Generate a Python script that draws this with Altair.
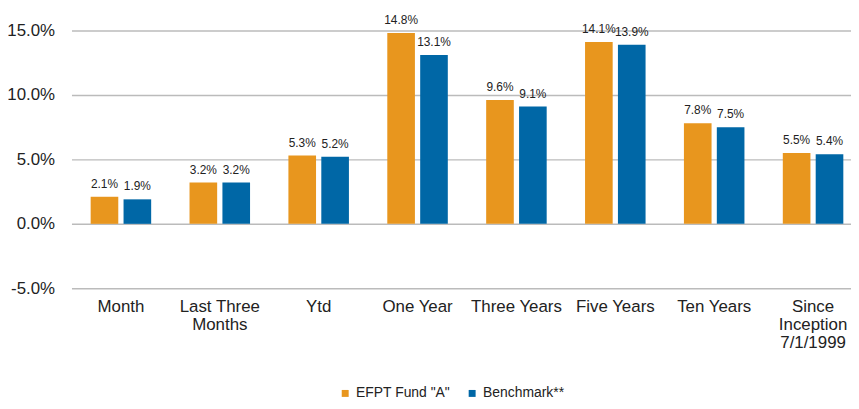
import altair as alt
import pandas as pd

categories = ["Month", "Last Three|Months", "Ytd", "One Year", "Three Years",
              "Five Years", "Ten Years", "Since|Inception|7/1/1999"]
fund = [2.1, 3.2, 5.3, 14.8, 9.6, 14.1, 7.8, 5.5]
bench = [1.9, 3.2, 5.2, 13.1, 9.1, 13.9, 7.5, 5.4]
series = ['EFPT Fund "A"', "Benchmark**"]
colors = ["#E8961E", "#0067A6"]
y_ticks = [-5, 0, 5, 10, 15]

rows = []
for c, f, b in zip(categories, fund, bench):
    rows.append({"category": c, "series": series[0], "value": f})
    rows.append({"category": c, "series": series[1], "value": b})
df = pd.DataFrame(rows)

x = alt.X(
    "category:N", sort=categories,
    scale=alt.Scale(paddingInner=0.388, paddingOuter=0.194, range=[0, 797.6]),
    axis=alt.Axis(title=None, labelExpr="split(datum.label, '|')", labelAngle=0,
                  labelFontSize=17, labelPadding=10, labelLineHeight=18.5,
                  ticks=False, tickSize=0, domain=False, labelColor="#222222",
                  grid=False),
)
xo = alt.XOffset("series:N", sort=series, scale=alt.Scale(paddingInner=0.16))
y = alt.Y(
    "value:Q", scale=alt.Scale(domain=[-5, 15], nice=False, zero=False),
    axis=alt.Axis(title=None, values=y_ticks,
                  labelExpr="(datum.value < 0 ? '-' : '') + format(abs(datum.value), '.1f') + '%'",
                  labelFontSize=17, labelPadding=17, ticks=False, tickSize=0,
                  domain=False, grid=True, gridColor="#BBBBBB", gridWidth=1.5,
                  labelColor="#222222"),
)
color = alt.Color(
    "series:N", sort=series,
    scale=alt.Scale(domain=series, range=colors),
    legend=alt.Legend(title=None, orient="none", legendX=269, legendY=359,
                      direction="horizontal", symbolType="square",
                      symbolSize=49, symbolStrokeWidth=0, labelFontSize=14,
                      columnPadding=15, labelOffset=4, labelColor="#222222"),
)

base = alt.Chart(df)
bars = base.mark_bar().encode(x=x, xOffset=xo, y=y, color=color)
labels = base.transform_calculate(
    lbl="format(datum.value, '.1f') + '%'"
).mark_text(dy=-9, baseline="alphabetic", fontSize=12, color="#222222").encode(
    x=x, xOffset=xo, y=y, text="lbl:N",
)

chart = (
    alt.layer(bars, labels)
    .properties(width=786, height=260,
                padding={"left": 64, "top": 21, "right": 0, "bottom": 112},
                autosize=alt.AutoSizeParams(type="none"))
    .configure(font="Liberation Sans")
    .configure_view(stroke=None)
)

chart.save("out.html", embed_options={"renderer": "svg", "actions": False})
